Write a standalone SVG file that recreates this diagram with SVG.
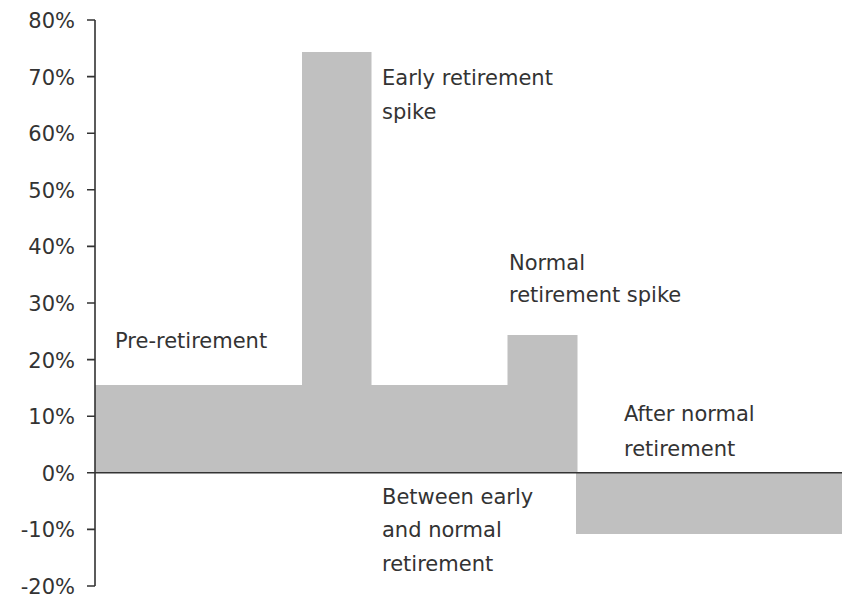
<svg xmlns="http://www.w3.org/2000/svg" width="842" height="598" viewBox="0 0 842 598">
<style>
.bar{fill:#c0c0c0}
.ax{stroke:#333;stroke-width:1.6;fill:none}
text{font-family:"DejaVu Sans","Liberation Sans",sans-serif;font-size:21px;fill:#333}
.tl{text-anchor:end}
</style>
<rect width="842" height="598" fill="#fff"/>
<g id="bars">
<path id="positive-bars" class="bar" d="M95,472.8V385H302V52H371.5V385H507.5V335H577.5V472.8Z"/>
<rect id="after-normal-bar" class="bar" x="576" y="472.8" width="266" height="61.2"/>
</g>
<g id="axis">
<path class="ax" d="M95,20V586M87,20H95M87,76.6H95M87,133.2H95M87,189.8H95M87,246.4H95M87,303H95M87,359.6H95M87,416.2H95M87,472.8H95M87,529.4H95M87,586H95"/>
<path class="ax" d="M95,472.8H842" stroke-width="2"/>
<text class="tl" x="75" y="28">80%</text>
<text class="tl" x="75" y="84.6">70%</text>
<text class="tl" x="75" y="141.2">60%</text>
<text class="tl" x="75" y="197.8">50%</text>
<text class="tl" x="75" y="254.4">40%</text>
<text class="tl" x="75" y="311">30%</text>
<text class="tl" x="75" y="367.6">20%</text>
<text class="tl" x="75" y="424.2">10%</text>
<text class="tl" x="75" y="480.8">0%</text>
<text class="tl" x="75" y="537.4">-10%</text>
<text class="tl" x="75" y="594">-20%</text>
</g>
<g id="labels">
<text x="115" y="348">Pre-retirement</text>
<text x="382" y="85">Early retirement</text>
<text x="382" y="119">spike</text>
<text x="509" y="270">Normal</text>
<text x="509" y="302">retirement spike</text>
<text x="624" y="421">After normal</text>
<text x="624" y="456">retirement</text>
<text x="382" y="504">Between early</text>
<text x="382" y="537">and normal</text>
<text x="382" y="571">retirement</text>
</g>
</svg>
